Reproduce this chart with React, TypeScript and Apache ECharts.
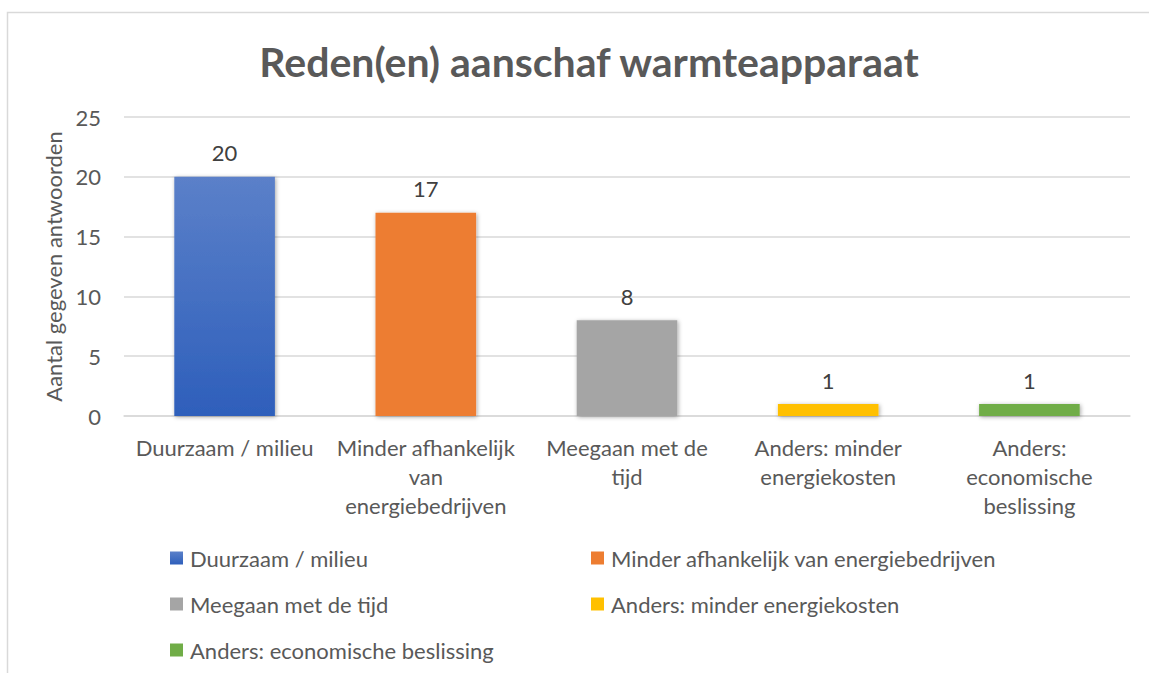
import React, { useEffect, useRef } from "react";
import * as echarts from "echarts";

const title = "Reden(en) aanschaf warmteapparaat";
const yAxisName = "Aantal gegeven antwoorden";
const categories = [
  "Duurzaam / milieu",
  "Minder afhankelijk van energiebedrijven",
  "Meegaan met de tijd",
  "Anders: minder energiekosten",
  "Anders: economische beslissing",
];
const axisLabelLines = [
  ["Duurzaam / milieu"],
  ["Minder afhankelijk", "van", "energiebedrijven"],
  ["Meegaan met de", "tijd"],
  ["Anders: minder", "energiekosten"],
  ["Anders:", "economische", "beslissing"],
];
const values = [20, 17, 8, 1, 1];
const yTicks = { min: 0, max: 25, interval: 5 };
const colorsTop = ["#5b80c9", "#ed7d31", "#a5a5a5", "#ffc000", "#70ad47"];
const colorsBottom = ["#2e5fbb", "#ed7d31", "#a5a5a5", "#ffc000", "#70ad47"];

const FONT = "Lato, 'Noto Sans', sans-serif";
const FS = 22;

export default function App() {
  const ref = useRef<HTMLDivElement>(null);
  useEffect(() => {
    document.body.style.margin = "0";
    if (!ref.current) return;
    const chart = echarts.init(ref.current, undefined, { renderer: "svg" });

    const series = categories.map((name, i) => ({
      name,
      type: "bar",
      stack: "all",
      barWidth: "50%",
      data: categories.map((_, j) => (j === i ? values[i] : null)),
      itemStyle: {
        color:
          colorsTop[i] === colorsBottom[i]
            ? colorsTop[i]
            : new echarts.graphic.LinearGradient(0, 0, 0, 1, [
                { offset: 0, color: colorsTop[i] },
                { offset: 1, color: colorsBottom[i] },
              ]),
        shadowBlur: 4,
        shadowColor: "rgba(0,0,0,0.35)",
        shadowOffsetX: 1,
        shadowOffsetY: 1,
      },
      label: {
        show: true,
        position: "top",
        distance: 13,
        color: "#404040",
        fontFamily: FONT,
        fontSize: FS,
      },
    }));

    const legendPos = [
      [170, 547],
      [591, 547],
      [170, 593],
      [591, 593],
      [170, 639],
    ];
    const legends = categories.map((name, i) => ({
      data: [name],
      left: legendPos[i][0],
      top: legendPos[i][1],
      icon: "rect",
      itemWidth: 13,
      itemHeight: 13,
      itemGap: 0,
      padding: 0,
      selectedMode: false,
      textStyle: { color: "#595959", fontFamily: FONT, fontSize: FS, padding: [0, 0, 0, 2] },
    }));

    chart.setOption({
      animation: false,
      backgroundColor: "#ffffff",
      title: {
        text: title,
        left: 584,
        textAlign: "center",
        top: 36,
        textStyle: { color: "#595959", fontFamily: FONT, fontWeight: "bold", fontSize: 41 },
      },
      graphic: [
        {
          type: "rect",
          shape: { x: 7.5, y: 12.5, width: 1160, height: 700 },
          style: { fill: "none", stroke: "#d9d9d9", lineWidth: 1.5 },
          silent: true,
        },
      ],
      legend: legends,
      grid: { left: 124, right: 19, top: 117, height: 299, containLabel: false },
      xAxis: {
        type: "category",
        data: categories,
        axisLine: { show: true, lineStyle: { color: "#d9d9d9", width: 1.5 } },
        axisTick: { show: false },
        axisLabel: {
          interval: 0,
          margin: 17,
          color: "#595959",
          fontFamily: FONT,
          fontSize: FS,
          lineHeight: 29,
          formatter: (_: string, idx: number) => axisLabelLines[idx].join("\n"),
        },
      },
      yAxis: {
        type: "value",
        min: yTicks.min,
        max: yTicks.max,
        interval: yTicks.interval,
        name: yAxisName,
        nameLocation: "middle",
        nameGap: 57,
        nameTextStyle: { color: "#595959", fontFamily: FONT, fontSize: FS },
        axisLine: { show: false },
        axisTick: { show: false },
        axisLabel: { color: "#595959", fontFamily: FONT, fontSize: FS, margin: 23 },
        splitLine: { lineStyle: { color: "#d9d9d9", width: 1.5 } },
      },
      series,
    });
    return () => chart.dispose();
  }, []);
  return <div ref={ref} style={{ width: 1149, height: 673 }} />;
}
